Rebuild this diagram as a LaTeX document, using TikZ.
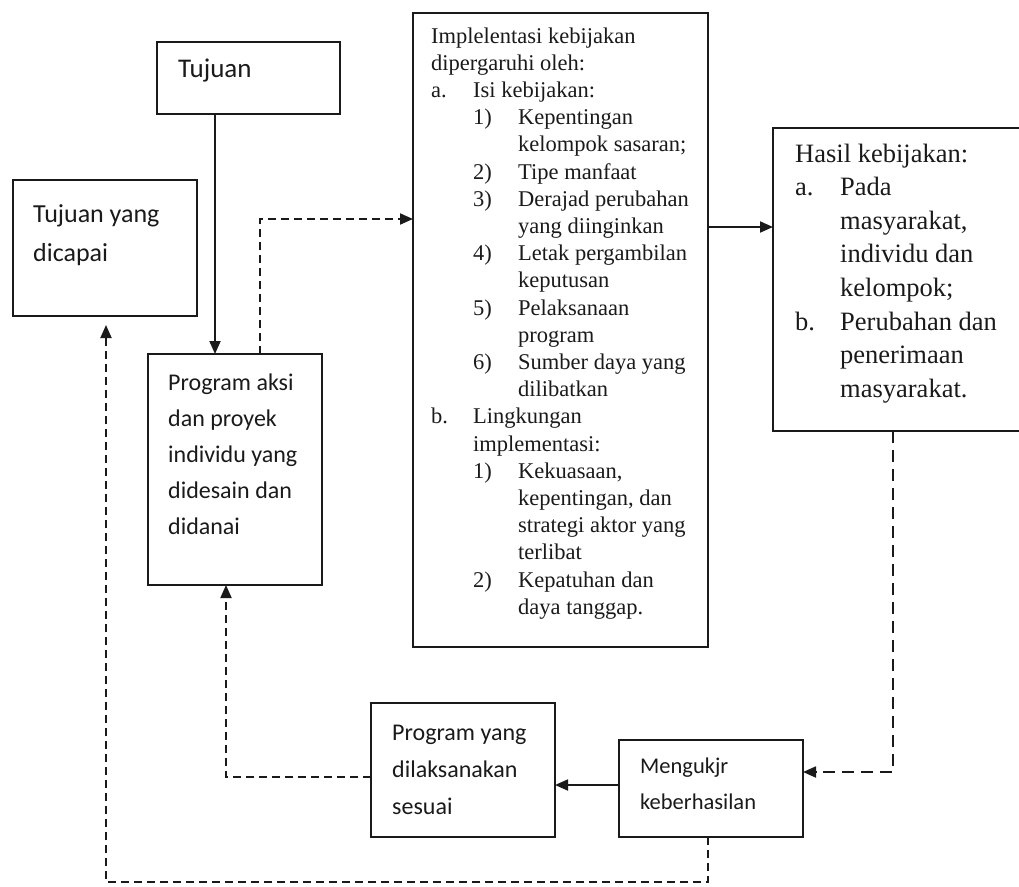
\documentclass[tikz,border=0pt]{standalone}
\usepackage{fontspec}
\setmainfont{Liberation Serif}
\newfontfamily\calfont{Carlito}
\usetikzlibrary{arrows.meta,calc}
\definecolor{ink}{HTML}{1A1A1A}
\tikzset{
  box/.style={draw=ink, line width=1.8pt, anchor=north west, inner sep=0pt, outer sep=0pt},
  arr/.style={line width=1.8pt, draw=ink, -{Triangle[length=13pt,width=11pt]}},
  darr/.style={arr, dash pattern=on 8pt off 5pt},
  sertxt/.style={anchor=base west, inner sep=0pt, text=ink, font=\fontsize{22.5}{27}\selectfont},
  hastxt/.style={anchor=base west, inner sep=0pt, text=ink, font=\fontsize{26.5}{32}\selectfont},
  caltxt/.style={anchor=base west, inner sep=0pt, text=ink, font=\calfont\fontsize{24}{28}\selectfont},
}
\begin{document}
\begin{tikzpicture}[x=1pt,y=-1pt]
\useasboundingbox (0,0) rectangle (1019,886);
% boxes
\node[box, minimum width=183pt, minimum height=72pt]  (tujuan)  at (157,42)  {};
\node[box, minimum width=184pt, minimum height=136pt] (dicapai) at (13,180)  {};
\node[box, minimum width=174pt, minimum height=231pt] (aksi)    at (148,354) {};
\node[box, minimum width=295pt, minimum height=634pt] (impl)    at (413,13)  {};
\node[box, minimum width=270pt, minimum height=303pt] (hasil)   at (773,128) {};
\node[box, minimum width=184pt, minimum height=134pt] (prog)    at (371,703) {};
\node[box, minimum width=184pt, minimum height=97pt]  (ukur)    at (619,740) {};
% texts
\node[caltxt, font=\calfont\fontsize{27}{30}\selectfont] (t-tujuan) at (178,77) {Tujuan};
\node[caltxt, font=\calfont\fontsize{26}{30}\selectfont] (t-dic1) at (33,222) {Tujuan yang};
\node[caltxt, font=\calfont\fontsize{26}{30}\selectfont] (t-dic2) at (33,261) {dicapai};
\foreach \t [count=\k] in {Program aksi, dan proyek, individu yang, didesain dan, didanai}
  \node[caltxt] (t-aksi\k) at (168,{390+36*(\k-1)}) {\t};
\foreach \t [count=\k] in {Program yang, dilaksanakan, sesuai}
  \node[caltxt] (t-prog\k) at (392,{740+37*(\k-1)}) {\t};
\foreach \t [count=\k] in {Mengukjr, keberhasilan}
  \node[caltxt, font=\calfont\fontsize{22.5}{28}\selectfont] (t-ukur\k) at (640,{773+36*(\k-1)}) {\t};
\foreach \n/\x/\t [count=\k] in {
  1/431/Implelentasi kebijakan, 2/431/dipergaruhi oleh:,
  3/431/a., 3/473/Isi kebijakan:,
  4/473/1), 4/518/Kepentingan, 5/518/kelompok sasaran;,
  6/473/2), 6/518/Tipe manfaat,
  7/473/3), 7/518/Derajad perubahan, 8/518/yang diinginkan,
  9/473/4), 9/518/Letak pergambilan, 10/518/keputusan,
  11/473/5), 11/518/Pelaksanaan, 12/518/program,
  13/473/6), 13/518/Sumber daya yang, 14/518/dilibatkan,
  15/431/b., 15/473/Lingkungan, 16/473/implementasi:,
  17/473/1), 17/518/{Kekuasaan,}, 18/518/{kepentingan, dan},
  19/518/strategi aktor yang, 20/518/terlibat,
  21/473/2), 21/518/Kepatuhan dan, 22/518/daya tanggap.}
  \node[sertxt] (t-impl\k) at (\x,{43+27.2*(\n-1)}) {\t};
\foreach \n/\x/\t [count=\k] in {
  1/795/Hasil kebijakan:, 2/795/a., 2/840/Pada, 3/840/{masyarakat,},
  4/840/individu dan, 5/840/kelompok;, 6/795/b., 6/840/Perubahan dan,
  7/840/penerimaan, 8/840/masyarakat.}
  \node[hastxt] (t-has\k) at (\x,{162+33.6*(\n-1)}) {\t};
% connectors
\draw[arr]  ($(tujuan.south west)+(58,0)$) -- ($(aksi.north west)+(67,0)$);
\draw[darr] ($(aksi.north west)+(112,0)$) |- ($(impl.north west)+(0,206)$);
\draw[arr]  ($(impl.north east)+(0,214)$) -- ($(hasil.north west)+(0,99)$);
\draw[darr, dash pattern=on 12pt off 7pt] ($(hasil.south west)+(120,0)$) |- ($(ukur.north east)+(0,32)$);
\draw[arr]  ($(ukur.north west)+(0,45)$) -- ($(prog.north east)+(0,82)$);
\draw[darr] ($(prog.north west)+(0,74)$) -| ($(aksi.south west)+(78,0)$);
\draw[darr, shorten >=9pt] ($(ukur.south west)+(89,0)$) -- ++(0,45) -| ($(dicapai.south west)+(93,0)$);
\end{tikzpicture}
\end{document}
